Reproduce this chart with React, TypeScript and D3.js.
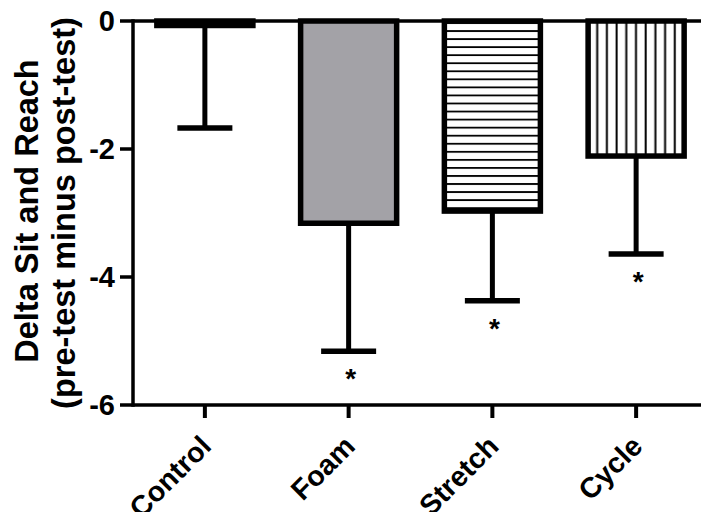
import React from "react";
import * as d3 from "d3";

const categories = ["Control", "Foam", "Stretch", "Cycle"];
const means = [-0.07, -3.16, -2.97, -2.11];
const sds = [1.6, 2.0, 1.4, 1.53];
const significant = [false, true, true, true];
const yTicks = [0, -2, -4, -6];
const yTitle = ["Delta Sit and Reach", "(pre-test minus post-test)"];

const W = 701;
const H = 512;
const left = 133;
const right = 708;
const top = 21;
const bottom = 405;
const FONT = "'Liberation Sans', Arial, Helvetica, sans-serif";

export default function App() {
  const y = d3.scaleLinear().domain([-6, 0]).range([bottom, top]);
  const x = d3
    .scaleBand<string>()
    .domain(categories)
    .range([left, right])
    .paddingInner(0.332)
    .paddingOuter(0.166);
  const bw = x.bandwidth();
  const fills = ["#ffffff", "#a3a2a7", "url(#hlines)", "url(#vlines)"];
  const capW = 55;

  return (
    <svg
      width={W}
      height={H}
      style={{ position: "absolute", left: 0, top: 0, display: "block", background: "#fff" }}
      fontFamily={FONT}
      fontWeight="bold"
    >
      <defs>
        <pattern id="hlines" patternUnits="userSpaceOnUse" width={20} height={8.05} x={0} y={1.5}>
          <rect width={20} height={8.05} fill="#fff" />
          <rect y={4.5} width={20} height={1.8} fill="#000" />
        </pattern>
        <pattern id="vlines" patternUnits="userSpaceOnUse" width={9.7} height={20} x={0} y={0}>
          <rect width={9.7} height={20} fill="#fff" />
          <rect x={4.5} width={2} height={20} fill="#000" />
        </pattern>
      </defs>

      {/* bars */}
      {categories.map((c, i) => {
        const x0 = x(c)!;
        const y0 = y(0);
        const y1 = y(means[i]);
        return (
          <rect
            key={c}
            x={x0}
            y={y0}
            width={bw}
            height={y1 - y0}
            fill={fills[i]}
            stroke="#000"
            strokeWidth={5.5}
          />
        );
      })}

      {/* error bars */}
      {categories.map((c, i) => {
        const cx = x(c)! + bw / 2;
        const yM = y(means[i]);
        const yL = y(means[i] - sds[i]);
        return (
          <g key={"e" + c}>
            <line x1={cx} x2={cx} y1={yM} y2={yL} stroke="#000" strokeWidth={5} />
            <line x1={cx - capW / 2} x2={cx + capW / 2} y1={yL} y2={yL} stroke="#000" strokeWidth={5.5} />
            {significant[i] && (
              <text x={cx + 2} y={yL + 37} textAnchor="middle" fontSize={28}>
                *
              </text>
            )}
          </g>
        );
      })}

      {/* zero line */}
      <line x1={left} x2={W} y1={y(0)} y2={y(0)} stroke="#000" strokeWidth={3.5} />

      {/* x axis */}
      <line x1={left} x2={W} y1={bottom} y2={bottom} stroke="#000" strokeWidth={3.5} />
      {categories.map((c) => {
        const cx = x(c)! + bw / 2;
        return (
          <g key={"t" + c}>
            <line x1={cx} x2={cx} y1={bottom} y2={bottom + 13} stroke="#000" strokeWidth={4} />
            <text
              transform={`translate(${cx + 8},${bottom + 43}) rotate(-45)`}
              textAnchor="end"
              fontSize={28.5}
            >
              {c}
            </text>
          </g>
        );
      })}

      {/* y axis */}
      <line x1={left} x2={left} y1={top - 1.75} y2={bottom + 1.75} stroke="#000" strokeWidth={3.5} />
      {yTicks.map((t) => (
        <g key={"y" + t}>
          <line x1={left - 13} x2={left} y1={y(t)} y2={y(t)} stroke="#000" strokeWidth={3.5} />
          <text x={left - 18} y={y(t)} dy="0.36em" textAnchor="end" fontSize={29}>
            {t}
          </text>
        </g>
      ))}

      {/* y title */}
      <text transform={`translate(38,${(top + bottom) / 2 - 2}) rotate(-90)`} textAnchor="middle" fontSize={32.5}>
        {yTitle[0]}
      </text>
      <text transform={`translate(75,${(top + bottom) / 2}) rotate(-90)`} textAnchor="middle" fontSize={32.5}>
        {yTitle[1]}
      </text>
    </svg>
  );
}
